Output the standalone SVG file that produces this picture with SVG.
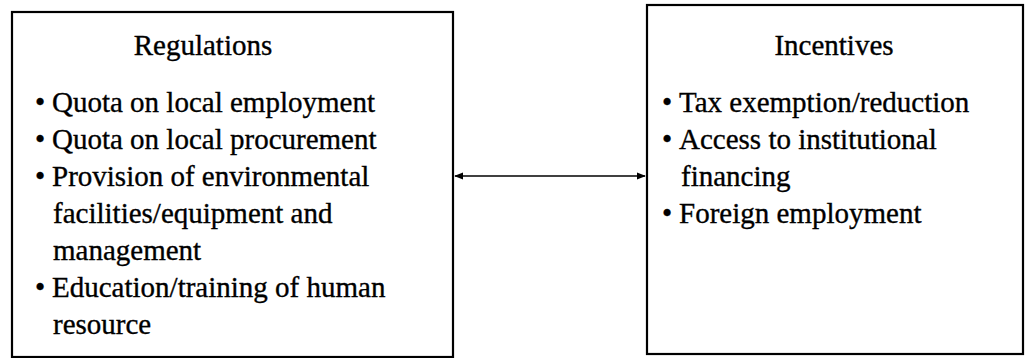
<svg xmlns="http://www.w3.org/2000/svg" width="1027" height="358" viewBox="0 0 1027 358">
<defs>
<style>
.box{fill:#fff;stroke:#000;stroke-width:2.2}
text{font-family:"Liberation Serif","Times New Roman",serif;font-size:29px;fill:#000;stroke:#000;stroke-width:0.35}
.h{text-anchor:middle}
.conn{stroke:#000;stroke-width:1.3;fill:none}
</style>
<marker id="ah" viewBox="0 0 10 10" refX="9" refY="5" markerWidth="9" markerHeight="9" markerUnits="userSpaceOnUse" orient="auto-start-reverse">
<path d="M0,1 L10,5 L0,9 Z" fill="#000"/>
</marker>
</defs>
<rect width="1027" height="358" fill="#fff"/>
<g id="regulations">
<rect class="box" x="12" y="12" width="441" height="345"/>
<text class="h" x="203" y="55">Regulations</text>
<text x="35" y="112">•</text><text x="52" y="112">Quota on local employment</text>
<text x="35" y="149">•</text><text x="52" y="149">Quota on local procurement</text>
<text x="35" y="186">•</text><text x="52" y="186">Provision of environmental</text>
<text x="53" y="223">facilities/equipment and</text>
<text x="53" y="260">management</text>
<text x="35" y="297">•</text><text x="52" y="297">Education/training of human</text>
<text x="53" y="334">resource</text>
</g>
<g id="incentives">
<rect class="box" x="647" y="5" width="376" height="349"/>
<text class="h" x="834" y="55">Incentives</text>
<text x="662" y="112">•</text><text x="679" y="112">Tax exemption/reduction</text>
<text x="662" y="149">•</text><text x="679" y="149">Access to institutional</text>
<text x="681" y="186">financing</text>
<text x="662" y="223">•</text><text x="679" y="223">Foreign employment</text>
</g>
<g id="connectors">
<line class="conn" x1="455" y1="176" x2="645" y2="176" marker-start="url(#ah)" marker-end="url(#ah)"/>
</g>
</svg>
